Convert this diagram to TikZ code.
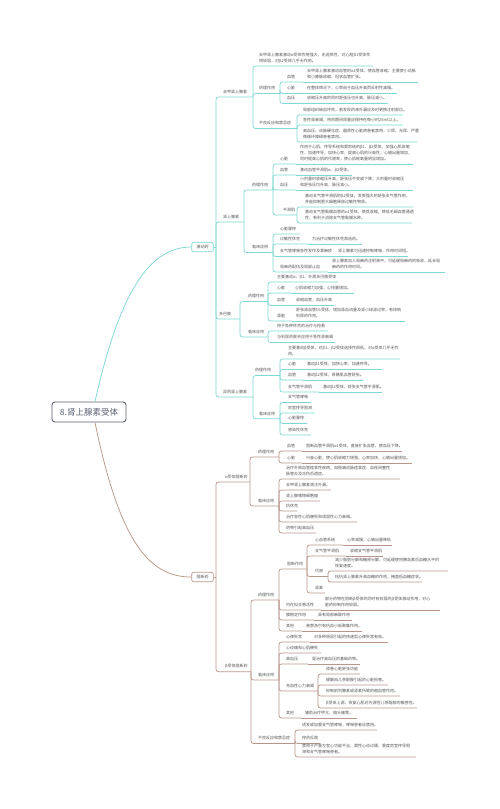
\documentclass[tikz,border=0pt]{standalone}
\usepackage{fontspec}
\setmainfont{Noto Sans CJK SC}
\definecolor{tealc}{HTML}{7ED8D3}
\definecolor{brownc}{HTML}{B8978A}
\definecolor{rootc}{HTML}{5B5F73}
\definecolor{txtc}{HTML}{555555}
\newcommand\fsz{\fontsize{4}{6}\selectfont}
% topic: name, text x, line y, line end x, text, parent
\newcommand\tpc[6]{%
  \node[tx] (#1) at (#2,#3-3) {#5};
  \coordinate (#1-e) at (#4,#3);
  \draw[ln] (#6-e) |- (#1-e);
}
% topic with description: name, x, line y, label, desc x, end x, desc, parent
\newcommand\tpd[8]{%
  \node[tx] (#1) at (#2,#3-3) {#4};
  \coordinate (#1-e) at (#5-4,#3);
  \draw[ln] (#8-e) |- (#1-e);
  \node[tx] (#1d) at (#5,#3-3) {#7};
  \coordinate (#1d-e) at (#6,#3);
  \draw[ln] (#1-e) -- (#1d-e);
}
\begin{document}
\begin{tikzpicture}[x=1pt,y=-1pt,
  tx/.style={anchor=south west, inner sep=0pt, font=\fsz, text=txtc, align=left},
  tealln/.style={draw=tealc, line width=0.75pt, rounded corners=2.5pt},
  brownln/.style={draw=brownc, line width=0.75pt, rounded corners=2.5pt},
  box/.style={line width=0.7pt, rounded corners=2pt, minimum width=21.6pt, minimum height=9.5pt, inner sep=0pt, font=\fsz, text=txtc, fill=white}]
\fill[white] (0,0) rectangle (499,809);
\useasboundingbox (0,0) rectangle (499,809);

\node[draw=rootc, line width=0.9pt, rounded corners=3pt, minimum width=74pt, minimum height=20pt, inner sep=0pt, font=\fontsize{8.5}{10}\selectfont, text=rootc, fill=white] (root) at (89,412) {8.肾上腺素受体};
\node[box, draw=tealc] (jd) at (202.5,247) {激动药};
\node[box, draw=brownc] (zd) at (202.5,577) {阻断药};

\draw[draw=tealc, line width=0.75pt] ([xshift=6pt]root.north) .. controls (120,290) and (150,247) .. (jd.west);
\draw[draw=brownc, line width=0.75pt] ([xshift=6pt]root.south) .. controls (120,544) and (150,577) .. (zd.west);

\coordinate (jd-e) at (216,247);
\coordinate (zd-e) at (216,577);
\draw[tealln] (jd.east) -- (jd-e);
\draw[brownln] (zd.east) -- (zd-e);

\begin{scope}[ln/.style=tealln]
\tpc{ne}{223}{97}{253}{去甲肾上腺素}{jd}
\tpc{nea}{259}{66}{373}{去甲肾上腺素激动α受体作用强大，无选择性，对心脏β1受体作\\用较弱，对β2受体几乎无作用。}{ne}
\tpc{neb}{259}{93.5}{280}{药理作用}{ne}
\tpd{neb1}{287}{82}{血管}{307}{418}{去甲肾上腺素激动血管的α1受体，使血管收缩，主要使小动脉\\和小静脉收缩，冠状血管扩张。}{neb}
\tpd{neb2}{287}{93.5}{心脏}{307}{397}{在整体情况下，心率由于血压升高而反射性减慢。}{neb}
\tpd{neb3}{287}{103.5}{血压}{307}{388}{收缩压升高的同时舒张压也升高，脉压减小。}{neb}
\tpc{nec}{259}{128.5}{297}{不良反应和禁忌症}{ne}
\tpc{nec1}{303}{115}{403}{局部组织缺血坏死，若发现药液外漏应及时更换注射部位。}{nec}
\tpc{nec2}{303}{125}{403}{急性肾衰竭，用药期间尿量应保持在每小时25ml以上。}{nec}
\tpc{nec3}{303}{142}{417}{高血压、动脉硬化症、器质性心脏病患者禁用，少尿、无尿、严重\\微循环障碍患者禁用。}{nec}

\tpc{ad}{223}{222}{244}{肾上腺素}{jd}
\tpc{ada}{252}{190}{273}{药理作用}{ad}
\tpd{ada1}{280}{164}{心脏}{300}{413}{作用于心肌、传导系统和窦房结的β1、β2受体，加强心肌收缩\\性，加速传导，加快心率，提高心肌的兴奋性，心输出量增加，\\同时提高心肌的代谢率，使心肌耗氧量明显增加。}{ada}
\tpd{ada2}{280}{175}{血管}{300}{352}{激动血管平滑肌α、β2受体。}{ada}
\tpd{ada3}{280}{190}{血压}{300}{413}{小剂量时收缩压升高，舒张压不变或下降；大剂量时收缩压\\和舒张压均升高，脉压减小。}{ada}
\tpc{ada4}{283}{215}{297}{平滑肌}{ada}
\tpc{ada41}{305}{207}{413}{激动支气管平滑肌的β2受体，发挥强大的舒张支气管作用，\\并能抑制肥大细胞释放过敏性物质。}{ada4}
\tpc{ada42}{305}{223}{412}{激动支气管黏膜血管的α1受体，使其收缩，降低毛细血管通透\\性，有利于消除支气管黏膜水肿。}{ada4}
\tpc{adb}{252}{252.5}{273}{临床应用}{ad}
\tpc{adb1}{280}{234}{300}{心脏骤停}{adb}
\tpd{adb2}{280}{244}{过敏性休克}{312}{362}{为治疗过敏性休克首选药。}{adb}
\tpd{adb3}{280}{256.5}{支气管哮喘急性发作及荨麻疹}{338}{408}{肾上腺素可迅速控制哮喘，作用时间短。}{adb}
\tpd{adb4}{280}{272}{局麻药配伍及局部止血}{332}{445}{肾上腺素加入局麻药注射液中，可延缓局麻药的吸收，延长局\\麻药的作用时间。}{adb}

\tpc{db}{219}{319}{240}{多巴胺}{jd}
\tpc{dba}{248}{301.5}{268}{药理作用}{db}
\tpc{dba0}{277}{282}{338}{主要激动α、β1、外周多巴胺受体}{dba}
\tpd{dba1}{277}{293}{心脏}{295}{354}{心肌收缩力加强，心排量增加。}{dba}
\tpd{dba2}{277}{305.5}{血管}{296}{334}{收缩血管，血压升高}{dba}
\tpd{dba3}{277}{321}{肾脏}{296}{405}{舒张肾血管D1受体，增加肾血流量及肾小球滤过率，有排钠\\利尿的作用。}{dba}
\tpc{dbb}{248}{337}{268}{临床应用}{db}
\tpc{dbb1}{277}{331}{328}{用于各种休克的治疗与抢救}{dbb}
\tpc{dbb2}{277}{342.5}{335}{与利尿药联合应用于急性肾衰竭}{dbb}

\tpc{yb}{223}{397}{253}{异丙肾上腺素}{jd}
\tpc{yba}{255}{375.5}{280}{药理作用}{yb}
\tpc{yba0}{288}{359}{400}{主要激动β受体，对β1、β2受体选择性很低，对α受体几乎无作\\用。}{yba}
\tpd{yba1}{288}{369.5}{心脏}{307}{382}{激动β1受体，加快心率，加速传导。}{yba}
\tpd{yba2}{288}{380}{血管}{307}{363}{激动β2受体，骨骼肌血管舒张。}{yba}
\tpd{yba3}{288}{392}{支气管平滑肌}{323}{382}{激动β2受体，舒张支气管平滑肌。}{yba}
\tpc{ybb}{259}{418.75}{280}{临床应用}{yb}
\tpc{ybb1}{288}{402.5}{311}{支气管哮喘}{ybb}
\tpc{ybb2}{288}{413}{315}{房室传导阻滞}{ybb}
\tpc{ybb3}{288}{423.5}{307}{心脏骤停}{ybb}
\tpc{ybb4}{288}{435}{311}{感染性休克}{ybb}
\end{scope}

\begin{scope}[ln/.style=brownln]
\tpc{ab}{225}{482}{250}{α受体阻断药}{zd}
\tpc{aba}{258}{457}{279}{药理作用}{ab}
\tpd{aba1}{287}{451}{血管}{306}{402}{阻断血管平滑肌α1受体，直接扩张血管，使血压下降。}{aba}
\tpd{aba2}{287}{463}{心脏}{306}{412}{兴奋心脏，使心肌收缩力增强，心率加快，心输出量增加。}{aba}
\tpc{abb}{258}{506}{279}{临床应用}{ab}
\tpc{abb1}{286}{479}{400}{治疗外周血管痉挛性疾病，如肢端动脉痉挛症、血栓闭塞性\\脉管炎及冻伤后遗症。}{abb}
\tpc{abb2}{286}{490}{331}{去甲肾上腺素滴注外漏。}{abb}
\tpc{abb3}{286}{501}{320}{肾上腺嗜铬细胞瘤}{abb}
\tpc{abb4}{286}{511}{297}{抗休克}{abb}
\tpc{abb5}{286}{522}{357}{治疗急性心肌梗死和顽固性心力衰竭。}{abb}
\tpc{abb6}{286}{533}{316}{药物引起高血压}{abb}

\tpc{bb}{225}{671.75}{251}{β受体阻断药}{zd}
\tpc{bba}{258}{600}{279}{药理作用}{bb}
\tpc{bba1}{287}{569}{307}{阻断作用}{bba}
\tpd{bba11}{315}{545}{心血管系统}{347}{392}{心率减慢，心输出量降低}{bba1}
\tpd{bba12}{315}{556}{支气管平滑肌}{350}{383}{收缩支气管平滑肌}{bba1}
\tpc{bba13}{315}{576.5}{328}{代谢}{bba1}
\tpc{bba131}{335}{571}{448}{减少脂肪分解和糖原分解，可延缓使用胰岛素后血糖水平的\\恢复速度。}{bba13}
\tpc{bba132}{335}{582}{422}{拮抗肾上腺素升高血糖的作用，掩盖低血糖症状。}{bba13}
\tpc{bba14}{315}{593}{325}{肾素}{bba1}
\tpd{bba2}{286}{610}{内在拟交感活性}{325}{440}{部分药物在阻断β受体的同时有较弱的β受体激动作用，对心\\脏的抑制作用较弱。}{bba}
\tpd{bba3}{286}{620}{膜稳定作用}{318}{352}{具有局部麻醉作用}{bba}
\tpd{bba4}{286}{631}{其他}{306}{362}{普萘洛尔有抗血小板聚集作用。}{bba}
\tpc{bbb}{258}{680}{279}{临床应用}{bb}
\tpd{bbb1}{286}{642}{心律失常}{314}{388}{对多种原因引起的快速型心律失常有效。}{bbb}
\tpc{bbb2}{286}{653}{321}{心绞痛和心肌梗死}{bbb}
\tpd{bbb3}{286}{664}{高血压}{312}{360}{是治疗高血压的基础药物。}{bbb}
\tpc{bbb4}{286}{691}{318}{充血性心力衰竭}{bbb}
\tpc{bbb41}{326}{674}{360}{改善心脏舒张功能}{bbb4}
\tpc{bbb42}{326}{685}{388}{缓解由儿茶酚胺引起的心脏损害。}{bbb4}
\tpc{bbb43}{326}{696}{400}{抑制前列腺素或肾素所致的缩血管作用。}{bbb4}
\tpc{bbb44}{326}{708}{417}{β受体上调，恢复心肌对内源性儿茶酚胺的敏感性。}{bbb4}
\tpd{bbb5}{286}{718}{其他}{305}{357}{辅助治疗甲亢、偏头痛等。}{bbb}
\tpc{bbc}{258}{743.5}{295}{不良反应和禁忌症}{bb}
\tpc{bbc1}{302}{730}{377}{诱发或加重支气管哮喘，哮喘患者应禁用。}{bbc}
\tpc{bbc2}{302}{743.5}{320}{停药反跳}{bbc}
\tpc{bbc3}{302}{757}{416}{禁用于严重左室心功能不全、窦性心动过缓、重度房室传导阻\\滞和支气管哮喘患者。}{bbc}
\end{scope}
\end{tikzpicture}
\end{document}
